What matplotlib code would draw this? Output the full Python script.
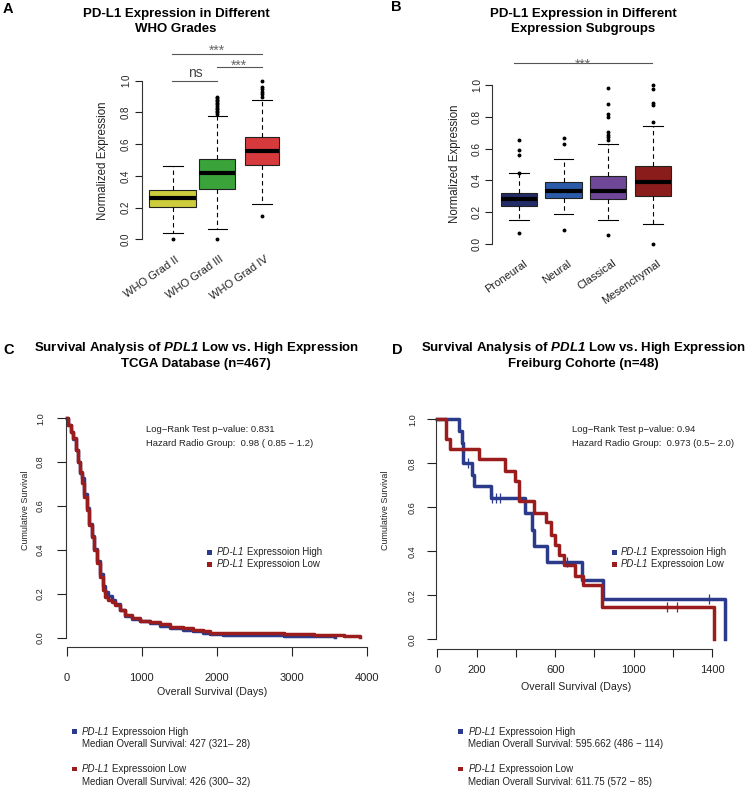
import matplotlib
matplotlib.use('Agg')
import matplotlib.pyplot as plt
import matplotlib.transforms as mtrans
from matplotlib.patches import Rectangle

plt.rcParams['font.family'] = ['Liberation Sans', 'DejaVu Sans']
plt.rcParams['mathtext.fontset'] = 'custom'
plt.rcParams['mathtext.rm'] = 'Liberation Sans'
plt.rcParams['mathtext.it'] = 'Liberation Sans:italic'
plt.rcParams['mathtext.bf'] = 'Liberation Sans:italic:bold'

# ---------------- data ----------------
grade_labels = ['WHO Grad II', 'WHO Grad III', 'WHO Grad IV']
grade_q1 = [0.202, 0.315, 0.470]
grade_med = [0.258, 0.416, 0.558]
grade_q3 = [0.311, 0.504, 0.647]
grade_whislo = [0.038, 0.067, 0.222]
grade_whishi = [0.464, 0.777, 0.878]
grade_fliers = [[0.005],
                [0.005, 0.79, 0.80, 0.81, 0.82, 0.83, 0.84, 0.85, 0.86, 0.87, 0.88, 0.89, 0.90],
                [0.147, 0.90, 0.915, 0.93, 0.945, 0.96, 1.0]]
grade_colors = ['#cccc3d', '#3aa43a', '#d63a3c']

sub_labels = ['Proneural', 'Neural', 'Classical', 'Mesenchymal']
sub_q1 = [0.241, 0.287, 0.281, 0.302]
sub_med = [0.281, 0.333, 0.333, 0.390]
sub_q3 = [0.323, 0.390, 0.428, 0.492]
sub_whislo = [0.151, 0.187, 0.151, 0.124]
sub_whishi = [0.445, 0.535, 0.627, 0.744]
sub_fliers = [[0.067, 0.448, 0.56, 0.591, 0.652],
              [0.088, 0.629, 0.669],
              [0.057, 0.654, 0.671, 0.685, 0.702, 0.80, 0.815, 0.878, 0.979],
              [0.0, 0.769, 0.875, 0.885, 0.973, 1.0]]
sub_colors = ['#222c68', '#2b5ba8', '#6e4797', '#8b1c1c']

tcga_high_days = [0, 22, 53, 89, 124, 150, 178, 200, 236, 267, 302, 333, 369, 400, 444, 480,
                  511, 556, 600, 644, 711, 778, 867, 978, 1111, 1244, 1378, 1556, 1689, 1822,
                  1911, 2089, 2500, 2900, 3200, 3578]
tcga_high_surv = [1.0, 0.969, 0.939, 0.905, 0.855, 0.80, 0.75, 0.726, 0.655, 0.59, 0.52, 0.465,
                  0.405, 0.35, 0.29, 0.235, 0.21, 0.19, 0.17, 0.152, 0.125, 0.10, 0.085, 0.075,
                  0.065, 0.055, 0.045, 0.037, 0.030, 0.022, 0.015, 0.013, 0.012, 0.008, 0.007, 0.005]
tcga_low_days = [0, 22, 53, 89, 124, 156, 178, 200, 236, 267, 302, 333, 369, 400, 444, 480,
                 511, 556, 600, 644, 711, 778, 867, 978, 1111, 1244, 1378, 1556, 1689, 1822,
                 1911, 2089, 2900, 3300, 3700, 3910]
tcga_low_surv = [1.0, 0.969, 0.939, 0.909, 0.855, 0.802, 0.757, 0.703, 0.643, 0.582, 0.514, 0.46,
                 0.40, 0.339, 0.278, 0.217, 0.187, 0.172, 0.164, 0.149, 0.126, 0.103, 0.088, 0.077,
                 0.070, 0.062, 0.050, 0.043, 0.035, 0.030, 0.023, 0.020, 0.016, 0.013, 0.009, 0.004]

frei_high_days = [0, 112, 124, 132, 175, 187, 273, 448, 480, 492, 560, 735, 842, 1464]
frei_high_surv = [1.0, 0.948, 0.891, 0.803, 0.747, 0.697, 0.641, 0.573, 0.497, 0.424, 0.353,
                  0.270, 0.182, 0.0]
frei_high_cens_days = [155, 277, 299, 319, 658, 1383]
frei_high_cens_surv = [0.803, 0.641, 0.641, 0.641, 0.353, 0.182]
frei_low_days = [0, 42, 64, 214, 345, 395, 418, 493, 555, 580, 601, 622, 643, 700, 740, 837, 1408]
frei_low_surv = [1.0, 0.909, 0.864, 0.818, 0.767, 0.718, 0.628, 0.576, 0.531, 0.476, 0.429,
                 0.383, 0.338, 0.289, 0.245, 0.148, 0.0]
frei_low_cens_days = [1170, 1221]
frei_low_cens_surv = [0.148, 0.148]

ytick_vals = [0.0, 0.2, 0.4, 0.6, 0.8, 1.0]
ytick_labels = ['0.0', '0.2', '0.4', '0.6', '0.8', '1.0']
tcga_xticks = [0, 1000, 2000, 3000, 4000]
tcga_xlabels = ['0', '1000', '2000', '3000', '4000']
frei_xticks = [0, 200, 400, 600, 800, 1000, 1200, 1400]
frei_xlabels = ['0', '200', '', '600', '', '1000', '', '1400']

HIGH_C = '#2b3a8a'
LOW_C = '#9b1c1c'
TXT = '#222222'

# ---------------- figure helpers ----------------
W, H = 749, 788
fig = plt.figure(figsize=(W / 100, H / 100), dpi=100)
renderer = fig.canvas.get_renderer()


def ax_px(left, top, right, bottom):
    return fig.add_axes([left / W, 1 - bottom / H, (right - left) / W, (bottom - top) / H])


def ftext(x, y, s, **kw):
    return fig.text(x / W, 1 - y / H, s, **kw)


def fsquare(cx, cy, w, h, color):
    fig.add_artist(Rectangle(((cx - w / 2) / W, 1 - (cy + h / 2) / H), w / W, h / H,
                             transform=fig.transFigure, facecolor=color, edgecolor='none'))


def rich(x, y, pieces, size, weight='normal', ha='left'):
    """pieces: list of (text, fontstyle); joined by single spaces."""
    space = 0.278 * size * 100 / 72
    arts, widths = [], []
    for s, st in pieces:
        t = fig.text(0, 0, s, fontsize=size, fontstyle=st, fontweight=weight,
                     ha='left', va='center', color=TXT)
        widths.append(t.get_window_extent(renderer).width)
        arts.append(t)
    total = sum(widths) + space * (len(pieces) - 1)
    cur = x - total / 2 if ha == 'center' else x
    for t, w in zip(arts, widths):
        t.set_position((cur / W, 1 - y / H))
        cur += w + space


def draw_box(ax, labels, q1, med, q3, lo, hi, fliers, colors, widths):
    stats = []
    for i in range(len(labels)):
        stats.append(dict(label=labels[i], q1=q1[i], med=med[i], q3=q3[i],
                          whislo=lo[i], whishi=hi[i], fliers=fliers[i]))
    bp = ax.bxp(stats, positions=list(range(1, len(labels) + 1)), widths=widths,
                capwidths=0.44, patch_artist=True, showfliers=True, manage_ticks=False,
                boxprops=dict(linewidth=0.8, edgecolor='#222222'),
                medianprops=dict(color='black', linewidth=3.0, solid_capstyle='butt'),
                whiskerprops=dict(color='black', linewidth=0.8, linestyle=(0, (4, 3))),
                capprops=dict(color='black', linewidth=0.8),
                flierprops=dict(marker='o', markersize=1.8, markerfacecolor='black',
                                markeredgecolor='black', linestyle='none'))
    for patch, c in zip(bp['boxes'], colors):
        patch.set_facecolor(c)


def style_yaxis(ax, length, pad, size):
    ax.spines['left'].set_bounds(0, 1)
    ax.spines['left'].set_linewidth(0.8)
    ax.spines['left'].set_color('#333333')
    ax.set_yticks(ytick_vals)
    ax.set_yticklabels(ytick_labels, rotation=90, va='center')
    ax.tick_params(axis='y', length=length, width=0.8, pad=pad, labelsize=size, colors=TXT)


def rot_labels(ax, labels, dx, dy, size):
    tr = mtrans.blended_transform_factory(ax.transData, ax.transAxes) + \
        mtrans.ScaledTranslation(dx / 100, -dy / 100, fig.dpi_scale_trans)
    for i, lab in enumerate(labels):
        ax.text(i + 1, 0, lab, transform=tr, rotation=35, ha='right', va='center',
                rotation_mode='anchor', fontsize=size, color=TXT)


# ---------------- Panel A ----------------
axA = ax_px(141.7, 74.36, 284.35, 245.64)
axA.set_xlim(0.306, 3.5)
axA.set_ylim(-0.04, 1.04)
draw_box(axA, grade_labels, grade_q1, grade_med, grade_q3, grade_whislo, grade_whishi,
         grade_fliers, grade_colors, [1.05, 0.8, 0.77])
for s in ['top', 'right', 'bottom']:
    axA.spines[s].set_visible(False)
style_yaxis(axA, 4.8, 3.0, 7)
axA.set_xticks([])
rot_labels(axA, grade_labels, 5.5, 12.7, 8)
gray = '#555555'
axA.plot([0.98, 2.0], [1.0, 1.0], color=gray, lw=0.8, clip_on=False)
axA.text(1.5, 1.05, 'ns', ha='center', va='center', fontsize=10, color='#444444')
axA.plot([1.99, 3.01], [1.088, 1.088], color=gray, lw=0.8, clip_on=False)
axA.text(2.49, 1.091, '***', ha='center', va='center', fontsize=10, color='#666666')
axA.plot([0.99, 3.01], [1.168, 1.168], color=gray, lw=0.8, clip_on=False)
axA.text(1.98, 1.19, '***', ha='center', va='center', fontsize=10, color='#666666')

ftext(8, 8.7, 'A', fontsize=10.5, fontweight='bold', ha='center', va='center')
ftext(175.9, 14, 'PD-L1 Expression in Different', fontsize=9.5, fontweight='bold',
      ha='center', va='center')
ftext(175.9, 29.3, 'WHO Grades', fontsize=9.5, fontweight='bold', ha='center', va='center')
ftext(103.3, 160.8, 'Normalized Expression', fontsize=8.3, rotation=90, ha='center',
      va='center', color=TXT)

# ---------------- Panel B ----------------
axB = ax_px(492.3, 78.64, 675.1, 250.36)
axB.set_xlim(0.401, 4.5)
axB.set_ylim(-0.04, 1.04)
draw_box(axB, sub_labels, sub_q1, sub_med, sub_q3, sub_whislo, sub_whishi,
         sub_fliers, sub_colors, 0.82)
for s in ['top', 'right', 'bottom']:
    axB.spines[s].set_visible(False)
style_yaxis(axB, 5.2, 2.2, 7.3)
axB.set_xticks([])
rot_labels(axB, sub_labels, 7, 11.8, 8)
axB.plot([0.89, 3.98], [1.136, 1.136], color=gray, lw=0.8, clip_on=False)
axB.text(2.44, 1.126, '***', ha='center', va='center', fontsize=10, color='#666666')

ftext(396, 6.7, 'B', fontsize=10.5, fontweight='bold', ha='center', va='center')
ftext(583.3, 14, 'PD-L1 Expression in Different', fontsize=9.5, fontweight='bold',
      ha='center', va='center')
ftext(583.3, 29.3, 'Expression Subgroups', fontsize=9.5, fontweight='bold', ha='center',
      va='center')
ftext(455, 163.7, 'Normalized Expression', fontsize=8.3, rotation=90, ha='center',
      va='center', color=TXT)


# ---------------- survival panels ----------------
def surv_axes(ax, xticks, xlabels, xmax_axis, xlen, xpad, xsize, ylen, ypad, ysize):
    for s in ['top', 'right']:
        ax.spines[s].set_visible(False)
    style_yaxis(ax, ylen, ypad, ysize)
    ax.spines['bottom'].set_bounds(0, xmax_axis)
    ax.spines['bottom'].set_linewidth(0.8)
    ax.spines['bottom'].set_color('#333333')
    ax.set_xticks(xticks)
    ax.set_xticklabels(xlabels)
    ax.tick_params(axis='x', length=xlen, width=0.8, pad=xpad, labelsize=xsize, colors=TXT)


# Panel C
axC = ax_px(65.95, 413.9, 374.2, 646.5)
axC.set_xlim(-10, 4100)
axC.set_ylim(-0.04, 1.02)
axC.step(tcga_high_days, tcga_high_surv, where='post', color=HIGH_C, lw=2.5, clip_on=False)
axC.step(tcga_low_days, tcga_low_surv, where='post', color=LOW_C, lw=2.5, clip_on=False)
surv_axes(axC, tcga_xticks, tcga_xlabels, 4000, 6.5, 12.5, 8, 6.5, 8.5, 6.6)

ftext(8.3, 350, 'C', fontsize=10.5, fontweight='bold', ha='center', va='center')
ftext(196.2, 348.3, r'Survival Analysis of $\mathbf{PDL1}$ Low vs. High Expression',
      fontsize=9.5, fontweight='bold', ha='center', va='center')
ftext(196.2, 364.3, 'TCGA Database (n=467)', fontsize=9.5, fontweight='bold', ha='center',
      va='center')
ftext(146, 430, 'Log\u2212Rank Test p\u2212value: 0.831', fontsize=6.8, ha='left',
      va='center', color=TXT)
ftext(146, 443.3, 'Hazard Radio Group:  0.98 ( 0.85 \u2212 1.2)', fontsize=6.8, ha='left',
      va='center', color=TXT)
fsquare(209.5, 552.3, 5.5, 4.5, HIGH_C)
fsquare(209.5, 564.3, 5.5, 4.5, LOW_C)
rich(216.7, 552.3, [('PD-L1', 'italic'), ('Expressoion High', 'normal')], 6.9)
rich(216.7, 564.3, [('PD-L1', 'italic'), ('Expressoion Low', 'normal')], 6.9)
ftext(26, 510, 'Cumulative Survival', fontsize=6.4, rotation=90, ha='center', va='center',
      color=TXT)
ftext(212, 691.7, 'Overall Survival (Days)', fontsize=7.7, ha='center', va='center',
      color=TXT)

# Panel D
axD = ax_px(435.9, 414.9, 732.0, 649.2)
axD.set_xlim(-7, 1500)
axD.set_ylim(-0.045, 1.02)
axD.step(frei_high_days, frei_high_surv, where='post', color=HIGH_C, lw=2.5, clip_on=False)
axD.step(frei_low_days, frei_low_surv, where='post', color=LOW_C, lw=2.5, clip_on=False)
axD.plot(frei_high_cens_days, frei_high_cens_surv, linestyle='none', marker='|',
         markersize=6.5, mew=0.9, color=HIGH_C, clip_on=False)
axD.plot(frei_low_cens_days, frei_low_cens_surv, linestyle='none', marker='|',
         markersize=6.5, mew=0.9, color=LOW_C, clip_on=False)
surv_axes(axD, frei_xticks, frei_xlabels, 1400, 5.4, 6.0, 8, 6.5, 7.2, 6.6)

ftext(397, 350, 'D', fontsize=10.5, fontweight='bold', ha='center', va='center')
ftext(583.3, 348.3, r'Survival Analysis of $\mathbf{PDL1}$ Low vs. High Expression',
      fontsize=9.5, fontweight='bold', ha='center', va='center')
ftext(583.3, 364.3, 'Freiburg Cohorte (n=48)', fontsize=9.5, fontweight='bold',
      ha='center', va='center')
ftext(571.7, 430, 'Log\u2212Rank Test p\u2212value: 0.94', fontsize=6.8, ha='left',
      va='center', color=TXT)
ftext(571.7, 443.3, 'Hazard Radio Group:  0.973 (0.5\u2212 2.0)', fontsize=6.8, ha='left',
      va='center', color=TXT)
fsquare(614.5, 552.3, 5.5, 4.5, HIGH_C)
fsquare(614.5, 564.3, 5.5, 4.5, LOW_C)
rich(620.7, 552.3, [('PD-L1', 'italic'), ('Expressoion High', 'normal')], 6.9)
rich(620.7, 564.3, [('PD-L1', 'italic'), ('Expressoion Low', 'normal')], 6.9)
ftext(386, 510, 'Cumulative Survival', fontsize=6.4, rotation=90, ha='center', va='center',
      color=TXT)
ftext(576.3, 686.7, 'Overall Survival (Days)', fontsize=7.7, ha='center', va='center',
      color=TXT)

# ---------------- bottom legends ----------------
fsquare(74.2, 731.7, 5.0, 4.5, HIGH_C)
rich(81.7, 731.7, [('PD-L1', 'italic'), ('Expressoion High', 'normal')], 7)
ftext(81.7, 744.3, 'Median Overall Survival: 427 (321\u2013 28)', fontsize=7, ha='left',
      va='center', color=TXT)
fsquare(74.2, 769, 5.0, 4.5, LOW_C)
rich(81.7, 769, [('PD-L1', 'italic'), ('Expressoion Low', 'normal')], 7)
ftext(81.7, 781.7, 'Median Overall Survival: 426 (300\u2013 32)', fontsize=7, ha='left',
      va='center', color=TXT)

fsquare(460.8, 731.7, 5.0, 4.5, HIGH_C)
rich(468.3, 731.7, [('PD-L1', 'italic'), ('Expressoion High', 'normal')], 7)
ftext(468.3, 744.3, 'Median Overall Survival: 595.662 (486 \u2212 114)', fontsize=7,
      ha='left', va='center', color=TXT)
fsquare(460.8, 769, 5.0, 4.5, LOW_C)
rich(468.3, 769, [('PD-L1', 'italic'), ('Expressoion Low', 'normal')], 7)
ftext(468.3, 781.7, 'Median Overall Survival: 611.75 (572 \u2212 85)', fontsize=7,
      ha='left', va='center', color=TXT)

fig.savefig('out.png', dpi=100)
